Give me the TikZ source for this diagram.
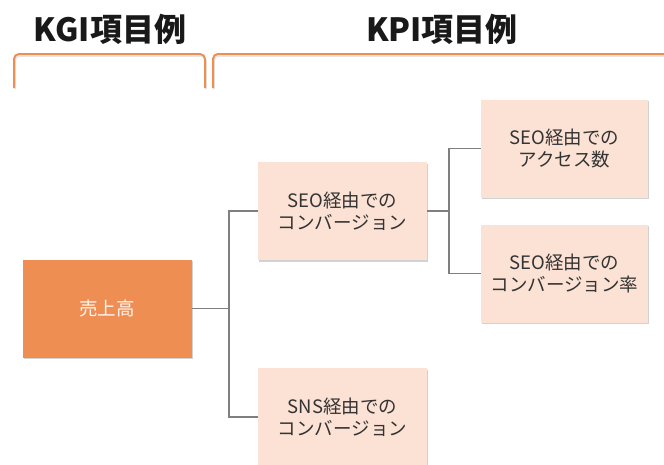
\documentclass[tikz,border=0pt]{standalone}
\usepackage{fontspec}
\setmainfont{Noto Sans CJK JP}
\usetikzlibrary{shadows}
\definecolor{accent}{HTML}{EE8E53}
\definecolor{peach}{HTML}{FBE2D4}
\definecolor{linegray}{HTML}{7F7F7F}
\tikzset{
  kpibox/.style={fill=peach, draw=none, minimum width=169pt, minimum height=98pt, align=center,
    font=\fontsize{18.5}{22}\selectfont, text=black!80,
    drop shadow={shadow xshift=1pt, shadow yshift=-1.5pt, opacity=0.35}},
  kgibox/.style={kpibox, fill=accent, text=white!92!accent},
  conn/.style={draw=linegray, line width=1.8pt},
  brace/.style={draw=accent, line width=2pt, rounded corners=5pt},
  braceshadow/.style={draw=black!10, line width=1.5pt, rounded corners=5pt},
  heading/.style={font=\fontsize{32}{34}\selectfont\bfseries, text=black!90}
}
\begin{document}
\begin{tikzpicture}[x=1pt,y=-1pt]
\useasboundingbox (0,0) rectangle (664,464);
\clip (0,0) rectangle (664,464);
\fill[white] (0,0) rectangle (664,464);
\node[heading] (kgih) at (110,29) {KGI項目例};
\node[heading] (kpih) at (442,29) {KPI項目例};
\draw[braceshadow] (15,89) -- (15,56) -- (206,56) -- (206,89);
\draw[braceshadow] (214,89) -- (214,56) -- (680,56);
\draw[brace] (14,88) -- (14,54) -- (205,54) -- (205,88);
\draw[brace] (213,88) -- (213,54) -- (680,54);
\node[kgibox] (sales) at (107,308.5) {売上高};
\node[kpibox] (seoconv) at (342.5,211) {SEO経由での\\コンバージョン};
\node[kpibox] (snsconv) at (342.5,417) {SNS経由での\\コンバージョン};
\node[kpibox, minimum width=167pt] (seoacc) at (564.5,148.5) {SEO経由での\\アクセス数};
\node[kpibox, minimum width=167pt] (seorate) at (564.5,273.5) {SEO経由での\\コンバージョン率};
\coordinate (t1) at (229,0);
\coordinate (t2) at (449,0);
\draw[conn] (sales.east) -- (sales.east -| t1);
\draw[conn] (seoconv.west) -- (seoconv.west -| t1) -- (snsconv.west -| t1) -- (snsconv.west);
\draw[conn] (seoconv.east) -- (seoconv.east -| t2);
\draw[conn] (seoacc.west) -- (seoacc.west -| t2) -- (seorate.west -| t2) -- (seorate.west);
\end{tikzpicture}
\end{document}
